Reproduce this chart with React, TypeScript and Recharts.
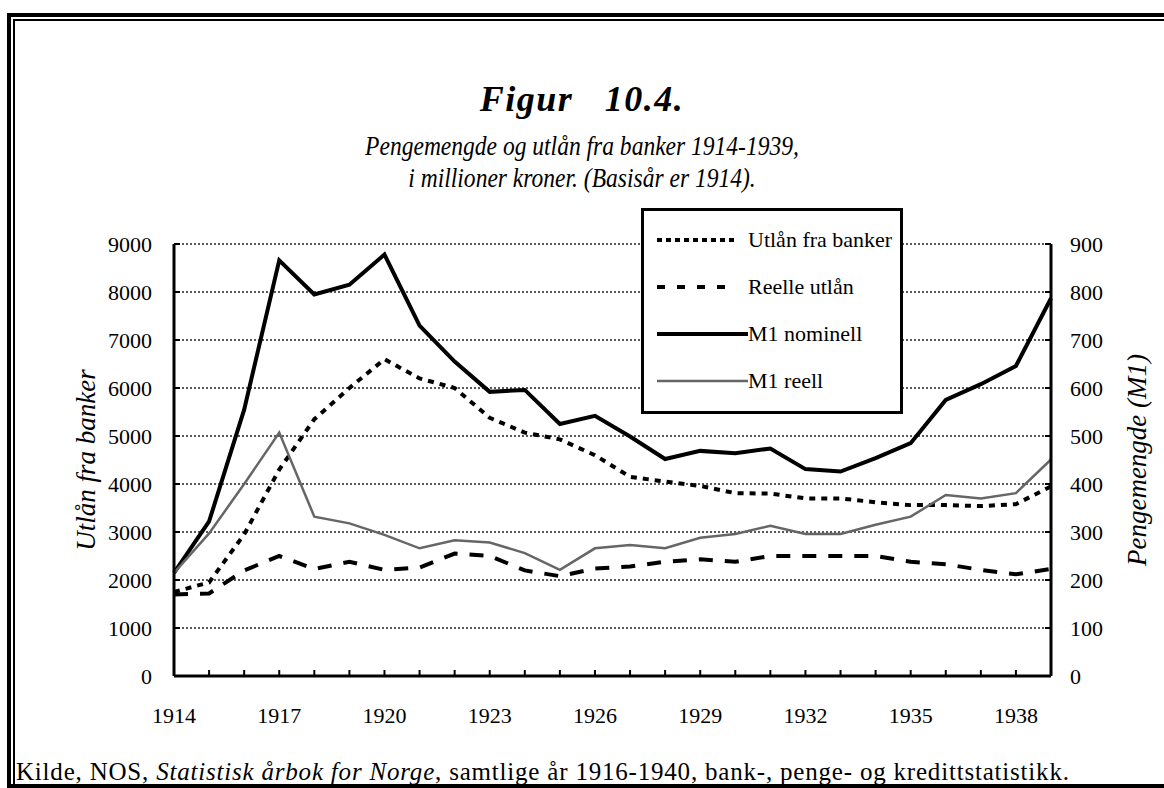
import { CartesianGrid, Legend, Line, LineChart, XAxis, YAxis } from 'recharts'

const years = [
  1914, 1915, 1916, 1917, 1918, 1919, 1920, 1921, 1922, 1923, 1924, 1925, 1926,
  1927, 1928, 1929, 1930, 1931, 1932, 1933, 1934, 1935, 1936, 1937, 1938, 1939,
]
const yearLabels = [1914, 1917, 1920, 1923, 1926, 1929, 1932, 1935, 1938]
const leftTicks = [0, 1000, 2000, 3000, 4000, 5000, 6000, 7000, 8000, 9000]
const rightTicks = [0, 100, 200, 300, 400, 500, 600, 700, 800, 900]

// utlån, mill. kr (venstre akse)
const utlan = [
  1750, 1950, 2950, 4300, 5350, 6000, 6600, 6200, 6000, 5380, 5070, 4930, 4600,
  4150, 4050, 3960, 3810, 3800, 3700, 3700, 3620, 3560, 3560, 3540, 3580, 3950,
]
const reelleUtlan = [
  1700, 1720, 2200, 2500, 2230, 2380, 2210, 2260, 2550, 2500, 2200, 2080, 2240,
  2280, 2380, 2430, 2380, 2500, 2500, 2500, 2500, 2380, 2330, 2210, 2120, 2230,
]
// M1, mill. kr (høyre akse)
const m1Nominell = [
  215, 322, 555, 866, 795, 815, 878, 730, 655, 592, 596, 525, 542,
  499, 452, 469, 464, 474, 431, 426, 454, 485, 575, 608, 646, 787,
]
const m1Reell = [
  215, 297, 400, 507, 332, 318, 294, 266, 283, 278, 256, 221, 266,
  273, 266, 288, 296, 313, 296, 296, 315, 332, 377, 370, 381, 451,
]

const seriesNames = ['Utlån fra banker', 'Reelle utlån', 'M1 nominell', 'M1 reell']

const data = years.map((year, i) => ({
  year,
  utlan: utlan[i],
  reelle: reelleUtlan[i],
  nominell: m1Nominell[i],
  reell: m1Reell[i],
}))

const serif = "'Liberation Serif', 'Times New Roman', Times, serif"
const tickStyle = { fill: '#000', fontSize: 22, fontFamily: serif }

const styles: Record<string, { stroke: string; strokeWidth: number; strokeDasharray?: string; legendDash?: string; legendLen: number }> = {
  'Utlån fra banker': { stroke: '#000', strokeWidth: 4, strokeDasharray: '6 6', legendDash: '5 4', legendLen: 81 },
  'Reelle utlån': { stroke: '#000', strokeWidth: 4, strokeDasharray: '14 12', legendDash: '8 12', legendLen: 74 },
  'M1 nominell': { stroke: '#000', strokeWidth: 4, legendLen: 91 },
  'M1 reell': { stroke: '#666', strokeWidth: 2.5, legendLen: 91 },
}

function LegendBox({ payload }: any) {
  const items = [...(payload || [])].sort(
    (a: any, b: any) => seriesNames.indexOf(a.value) - seriesNames.indexOf(b.value)
  )
  return (
    <div
      style={{
        width: 262,
        height: 206,
        border: '3px solid #000',
        boxSizing: 'border-box',
        background: '#fff',
        padding: '5px 0 0 13px',
      }}
    >
      {items.map((entry: any) => {
        const s = styles[entry.value]
        return (
          <div key={entry.value} style={{ display: 'flex', alignItems: 'center', height: 47 }}>
            <svg width={91} height={10} style={{ flex: 'none' }}>
              <line
                x1={0}
                x2={s.legendLen}
                y1={5}
                y2={5}
                stroke={s.stroke}
                strokeWidth={s.strokeWidth}
                strokeDasharray={s.legendDash}
              />
            </svg>
            <span style={{ fontFamily: serif, fontSize: 22, color: '#000', whiteSpace: 'nowrap' }}>
              {entry.value}
            </span>
          </div>
        )
      })}
    </div>
  )
}

const leftTitle = (props: any) => {
  const { y, height } = props.viewBox
  const cy = y + height / 2
  return (
    <text x={86} y={cy} transform={`rotate(-90, 86, ${cy})`} textAnchor="middle" dominantBaseline="central"
      fontFamily={serif} fontStyle="italic" fontSize={27} fill="#000">
      Utlån fra banker
    </text>
  )
}

const rightTitle = (props: any) => {
  const { y, height } = props.viewBox
  const cy = y + height / 2
  return (
    <text x={1137} y={cy} transform={`rotate(-90, 1137, ${cy})`} textAnchor="middle" dominantBaseline="central"
      fontFamily={serif} fontStyle="italic" fontSize={27} fill="#000">
      Pengemengde (M1)
    </text>
  )
}

export default function App() {
  return (
    <div style={{ position: 'absolute', left: 0, top: 0, width: 1164, height: 788, background: '#fff', overflow: 'hidden', fontFamily: serif }}>
      <div style={{ position: 'absolute', left: 0, top: 0 }}>
        <LineChart width={1164} height={788} data={data} margin={{ top: 244, right: 20, bottom: 72, left: 0 }}
          style={{ fontFamily: serif }}>
          <CartesianGrid yAxisId="left" vertical={false} stroke="#222" strokeWidth={1.5} strokeDasharray="2 2" />
          <XAxis
            dataKey="year"
            type="number"
            domain={[1914, 1939]}
            ticks={years}
            interval={0}
            tickFormatter={(v: number) => (yearLabels.includes(v) ? String(v) : '')}
            height={40}
            tickSize={-6}
            tickMargin={37}
            tick={tickStyle}
            axisLine={{ stroke: '#000', strokeWidth: 3 }}
            tickLine={{ stroke: '#000', strokeWidth: 2 }}
          />
          <YAxis
            yAxisId="left"
            domain={[0, 9000]}
            ticks={leftTicks}
            interval={0}
            width={174}
            tickSize={-6}
            tickMargin={28}
            tick={tickStyle}
            axisLine={{ stroke: '#000', strokeWidth: 3 }}
            tickLine={{ stroke: '#000', strokeWidth: 2 }}
            label={leftTitle}
          />
          <YAxis
            yAxisId="right"
            orientation="right"
            domain={[0, 900]}
            ticks={rightTicks}
            interval={0}
            width={93}
            tickSize={-6}
            tickMargin={25}
            tick={{ ...tickStyle, textAnchor: 'start' }}
            axisLine={{ stroke: '#000', strokeWidth: 3 }}
            tickLine={{ stroke: '#000', strokeWidth: 2 }}
            label={rightTitle}
          />
          <Legend
            layout="horizontal"
            verticalAlign="middle"
            align="center"
            wrapperStyle={{ left: 641, top: 208, width: 262, height: 206 }}
            content={<LegendBox />}
          />
          <Line yAxisId="left" type="linear" dataKey="utlan" name={seriesNames[0]} dot={false} activeDot={false}
            isAnimationActive={false} {...styles[seriesNames[0]]} />
          <Line yAxisId="left" type="linear" dataKey="reelle" name={seriesNames[1]} dot={false} activeDot={false}
            isAnimationActive={false} {...styles[seriesNames[1]]} />
          <Line yAxisId="right" type="linear" dataKey="nominell" name={seriesNames[2]} dot={false} activeDot={false}
            isAnimationActive={false} {...styles[seriesNames[2]]} />
          <Line yAxisId="right" type="linear" dataKey="reell" name={seriesNames[3]} dot={false} activeDot={false}
            isAnimationActive={false} {...styles[seriesNames[3]]} />
        </LineChart>
      </div>

      {/* ramme */}
      <div style={{ position: 'absolute', left: 7, top: 13, width: 4, height: 775, background: '#000' }} />
      <div style={{ position: 'absolute', left: 13, top: 19, width: 2, height: 769, background: '#000' }} />
      <div style={{ position: 'absolute', left: 7, top: 13, width: 1157, height: 4, background: '#000' }} />
      <div style={{ position: 'absolute', left: 13, top: 19, width: 1151, height: 2, background: '#000' }} />
      <div style={{ position: 'absolute', left: 7, top: 784, width: 1157, height: 4, background: '#000' }} />

      <div style={{ position: 'absolute', left: 0, width: 1164, top: 78, textAlign: 'center', fontFamily: serif,
        fontStyle: 'italic', fontWeight: 'bold', fontSize: 36, letterSpacing: 1.5, whiteSpace: 'pre', color: '#000' }}>
        {'Figur   10.4.'}
      </div>
      <div style={{ position: 'absolute', left: 0, width: 1164, top: 130, textAlign: 'center', fontFamily: serif,
        fontStyle: 'italic', fontSize: 28, lineHeight: '32px', color: '#000', transform: 'scaleX(0.84)' }}>
        Pengemengde og utlån fra banker 1914-1939,
        <br />
        i millioner kroner. (Basisår er 1914).
      </div>
      <div style={{ position: 'absolute', left: 16, top: 758, fontFamily: serif, fontSize: 25, letterSpacing: 0.8,
        color: '#000', whiteSpace: 'nowrap' }}>
        Kilde, NOS, <i>Statistisk årbok for Norge</i>, samtlige år 1916-1940, bank-, penge- og kredittstatistikk.
      </div>
    </div>
  )
}
